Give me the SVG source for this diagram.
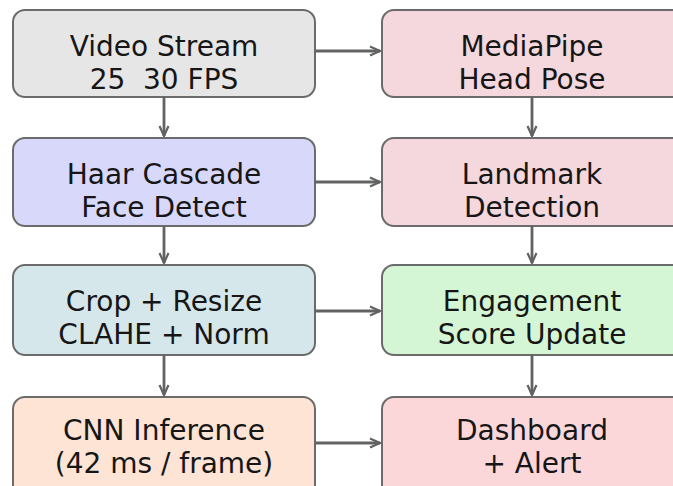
<svg xmlns="http://www.w3.org/2000/svg" width="673" height="486" viewBox="0 0 673 486">
<defs>
<marker id="ah" viewBox="0 0 12 12" refX="11" refY="6" markerWidth="12" markerHeight="12" markerUnits="userSpaceOnUse" orient="auto">
<path d="M1,1.5 L11,6 L1,10.5" fill="none" stroke="#626262" stroke-width="2.2"/>
</marker>
</defs>
<style>
.box{stroke:#6b6b6b;stroke-width:2}
.t{font-family:"DejaVu Sans",sans-serif;font-size:28px;fill:#161616;text-anchor:middle}
.c{stroke:#626262;stroke-width:2.8;fill:none;marker-end:url(#ah)}
</style>
<rect width="673" height="486" fill="#ffffff"/>
<g id="video">
<rect class="box" x="13" y="10" width="302" height="87" rx="12" fill="#e6e6e6"/>
<text class="t" x="164" y="56">Video Stream</text>
<text class="t" x="164" y="89">25&#160; 30 FPS</text>
</g>
<g id="haar">
<rect class="box" x="13" y="138" width="302" height="88" rx="12" fill="#d8d8fb"/>
<text class="t" x="164" y="184">Haar Cascade</text>
<text class="t" x="164" y="217">Face Detect</text>
</g>
<g id="crop">
<rect class="box" x="13" y="265" width="302" height="90" rx="12" fill="#d5e7ea"/>
<text class="t" x="164" y="311">Crop + Resize</text>
<text class="t" x="164" y="344">CLAHE + Norm</text>
</g>
<g id="cnn">
<rect class="box" x="13" y="397" width="302" height="100" rx="12" fill="#fde4d4"/>
<text class="t" x="164" y="440">CNN Inference</text>
<text class="t" x="164" y="473">(42 ms / frame)</text>
</g>
<g id="mediapipe">
<rect class="box" x="382" y="10" width="302" height="87" rx="12" fill="#f4d8dd"/>
<text class="t" x="532" y="56">MediaPipe</text>
<text class="t" x="532" y="89">Head Pose</text>
</g>
<g id="landmark">
<rect class="box" x="382" y="138" width="302" height="88" rx="12" fill="#f4d8dd"/>
<text class="t" x="532" y="184">Landmark</text>
<text class="t" x="532" y="217">Detection</text>
</g>
<g id="engagement">
<rect class="box" x="382" y="265" width="302" height="90" rx="12" fill="#d4f6d4"/>
<text class="t" x="532" y="311">Engagement</text>
<text class="t" x="532" y="344">Score Update</text>
</g>
<g id="dashboard">
<rect class="box" x="382" y="397" width="302" height="100" rx="12" fill="#fcd7da"/>
<text class="t" x="532" y="440">Dashboard</text>
<text class="t" x="532" y="473">+ Alert</text>
</g>
<g id="connectors">
<line class="c" x1="315" y1="51" x2="380" y2="51"/>
<line class="c" x1="315" y1="182" x2="380" y2="182"/>
<line class="c" x1="315" y1="311" x2="380" y2="311"/>
<line class="c" x1="315" y1="443" x2="380" y2="443"/>
<line class="c" x1="164" y1="97" x2="164" y2="136"/>
<line class="c" x1="164" y1="226" x2="164" y2="263"/>
<line class="c" x1="164" y1="355" x2="164" y2="395"/>
<line class="c" x1="532" y1="97" x2="532" y2="136"/>
<line class="c" x1="532" y1="226" x2="532" y2="263"/>
<line class="c" x1="532" y1="355" x2="532" y2="395"/>
</g>
</svg>
